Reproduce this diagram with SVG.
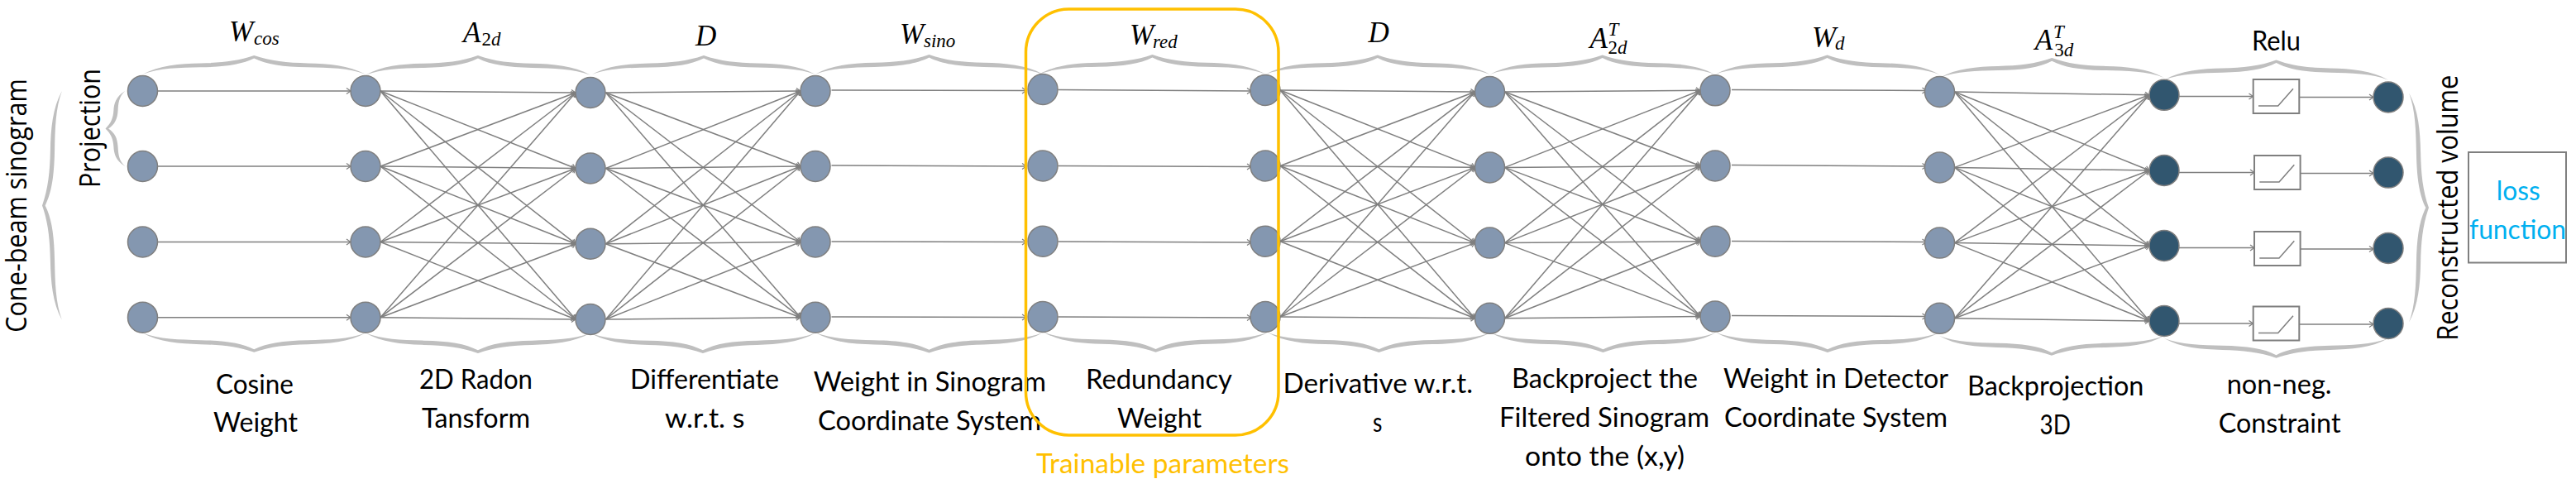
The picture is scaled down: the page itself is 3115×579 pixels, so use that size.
<svg xmlns="http://www.w3.org/2000/svg" xmlns:xlink="http://www.w3.org/1999/xlink" width="3115" height="579" viewBox="0 0 3115 579">
<style>
.bg{fill:#fff}
.brace{fill:#bfbfbf}
.conn path{fill:none;stroke:#7f7f7f;stroke-width:1.5;marker-end:url(#tip)}
.node ellipse{fill:#8497b0;stroke:#7f7f7f;stroke-width:1.5}
.node.dark ellipse{fill:#31566f}
.relu rect{fill:#fff;stroke:#7f7f7f;stroke-width:2}
.relu polyline{fill:none;stroke:#7f7f7f;stroke-width:1.5}
.t{font-family:"Lato","Liberation Sans",sans-serif;font-size:33px;fill:#000;text-anchor:start}
.v{font-family:"Open Sans","Liberation Sans",sans-serif;font-size:35px;fill:#000}
.m{font-family:"Liberation Serif",serif;font-style:italic;font-size:35px;fill:#000}
.s{font-size:23px}
.u{font-style:normal}
.orange{fill:#ffc000}
.blue{fill:#00b0f0}
</style>
<defs>
<marker id="tip" markerUnits="userSpaceOnUse" markerWidth="10" markerHeight="10" refX="7" refY="5" orient="auto">
<path d="M2 1.5L7 5L2 8.5" fill="none" stroke="#7f7f7f" stroke-width="1.2"/>
</marker>
<!-- curly brace, tip at the top centre, 270 wide and 23 tall -->
<path id="brace" class="brace" d="M0 23C20 12 45 10 70 9.5C95 9 115 7 135 0C155 7 175 9 200 9.5C225 10 250 12 270 23C250 15.5 225 15 200 14.5C170 14 150 11 135 3.5C120 11 100 14 70 14.5C45 15 20 15.5 0 23Z"/>
<g id="relu-box" class="relu"><rect x="0" y="0" width="55.6" height="41"/><polyline points="6.3,32 30,32 48.3,11.3"/></g>
</defs>
<rect class="bg" width="3115" height="579"/>

<g id="braces">
<use href="#brace" transform="translate(172.5 67) scale(.998 .987)"/>
<use href="#brace" transform="translate(442 67) scale(1.007 1.03)"/>
<use href="#brace" transform="translate(716 67) scale(1 1)"/>
<use href="#brace" transform="translate(986 66) scale(1.019 1.03)"/>
<use href="#brace" transform="translate(1257 66) scale(1.011 1.02)"/>
<use href="#brace" transform="translate(1530 66.5) scale(1.006 1.02)"/>
<use href="#brace" transform="translate(1801.5 66.5) scale(1.009 1.02)"/>
<use href="#brace" transform="translate(2074 66.5) scale(1.004 1.02)"/>
<use href="#brace" transform="translate(2345.4 70) scale(1.006 1.04)"/>
<use href="#brace" transform="translate(2617 72.4) scale(1.004 1.06)"/>
<use href="#brace" transform="translate(172.5 425.8) scale(.998 -1.01)"/>
<use href="#brace" transform="translate(442 427) scale(1.007 -1.06)"/>
<use href="#brace" transform="translate(714 427) scale(1.007 -1.06)"/>
<use href="#brace" transform="translate(986 426.5) scale(1.019 -1.06)"/>
<use href="#brace" transform="translate(1261.7 425.8) scale(1.006 -1.06)"/>
<use href="#brace" transform="translate(1533 426) scale(.996 -1.04)"/>
<use href="#brace" transform="translate(1802 426) scale(1.011 -1.04)"/>
<use href="#brace" transform="translate(2075 426) scale(1 -1.04)"/>
<use href="#brace" transform="translate(2345 429.8) scale(1.007 -1.03)"/>
<use href="#brace" transform="translate(2617 432.8) scale(1.004 -1.03)"/>
<use href="#brace" transform="matrix(0 .337 1.04 0 127.5 110)"/>
<use href="#brace" transform="matrix(0 1.025 1.04 0 51 110)"/>
<use href="#brace" transform="matrix(0 1.026 -1.04 0 2937 112.6)"/>
</g>

<g id="connectors" class="conn">
<!-- column 1 to 2 -->
<path d="M190.5 110L424 110"/><path d="M190.5 201L424 201"/><path d="M190.5 292.5L424 292.5"/><path d="M190.5 383.7L424 383.7"/>
<!-- column 2 to 3 -->
<path d="M460 110L696 112"/><path d="M460 110L696 203.5"/><path d="M460 110L696 294.7"/><path d="M460 110L696 386"/>
<path d="M460 201L696 112"/><path d="M460 201L696 203.5"/><path d="M460 201L696 294.7"/><path d="M460 201L696 386"/>
<path d="M460 292.5L696 112"/><path d="M460 292.5L696 203.5"/><path d="M460 292.5L696 294.7"/><path d="M460 292.5L696 386"/>
<path d="M460 383.7L696 112"/><path d="M460 383.7L696 203.5"/><path d="M460 383.7L696 294.7"/><path d="M460 383.7L696 386"/>
<!-- column 3 to 4 -->
<path d="M732.5 112L968 110"/><path d="M732.5 112L968 201"/><path d="M732.5 112L968 292.5"/><path d="M732.5 112L968 383.7"/>
<path d="M732.5 203.5L968 110"/><path d="M732.5 203.5L968 201"/><path d="M732.5 203.5L968 292.5"/><path d="M732.5 203.5L968 383.7"/>
<path d="M732.5 294.7L968 110"/><path d="M732.5 294.7L968 201"/><path d="M732.5 294.7L968 292.5"/><path d="M732.5 294.7L968 383.7"/>
<path d="M732.5 386L968 110"/><path d="M732.5 386L968 201"/><path d="M732.5 386L968 292.5"/><path d="M732.5 386L968 383.7"/>
<!-- column 4 to 5 -->
<path d="M1005.5 109L1241 109.5"/><path d="M1005.5 200L1241 201"/><path d="M1005.5 292L1241 292.5"/><path d="M1005.5 383L1241 383.5"/>
<!-- column 5 to 6 -->
<path d="M1279.5 108.5L1513 110"/><path d="M1279.5 200.5L1513 201.5"/><path d="M1279.5 292L1513 293"/><path d="M1279.5 383L1513 384"/>
<!-- column 6 to 7 -->
<path d="M1548 109L1783.5 111"/><path d="M1548 109L1783.5 202.4"/><path d="M1548 109L1783.5 293.6"/><path d="M1548 109L1783.5 384.8"/>
<path d="M1548 200.5L1783.5 111"/><path d="M1548 200.5L1783.5 202.4"/><path d="M1548 200.5L1783.5 293.6"/><path d="M1548 200.5L1783.5 384.8"/>
<path d="M1548 291.7L1783.5 111"/><path d="M1548 291.7L1783.5 202.4"/><path d="M1548 291.7L1783.5 293.6"/><path d="M1548 291.7L1783.5 384.8"/>
<path d="M1548 383L1783.5 111"/><path d="M1548 383L1783.5 202.4"/><path d="M1548 383L1783.5 293.6"/><path d="M1548 383L1783.5 384.8"/>
<!-- column 7 to 8 -->
<path d="M1819.5 111L2056 109.3"/><path d="M1819.5 111L2056 200.5"/><path d="M1819.5 111L2056 291.7"/><path d="M1819.5 111L2056 382.6"/>
<path d="M1819.5 202.4L2056 109.3"/><path d="M1819.5 202.4L2056 200.5"/><path d="M1819.5 202.4L2056 291.7"/><path d="M1819.5 202.4L2056 382.6"/>
<path d="M1819.5 293.6L2056 109.3"/><path d="M1819.5 293.6L2056 200.5"/><path d="M1819.5 293.6L2056 291.7"/><path d="M1819.5 293.6L2056 382.6"/>
<path d="M1819.5 384.8L2056 109.3"/><path d="M1819.5 384.8L2056 200.5"/><path d="M1819.5 384.8L2056 291.7"/><path d="M1819.5 384.8L2056 382.6"/>
<!-- column 8 to 9 -->
<path d="M2094 108.5L2329.5 109.5"/><path d="M2094 199.5L2329.5 201"/><path d="M2094 291.5L2329.5 292.5"/><path d="M2094 381.5L2329.5 382.5"/>
<!-- column 9 to 10 -->
<path d="M2363.5 111L2599 114.8"/><path d="M2363.5 111L2599 206"/><path d="M2363.5 111L2599 297"/><path d="M2363.5 111L2599 388"/>
<path d="M2363.5 202.4L2599 114.8"/><path d="M2363.5 202.4L2599 206"/><path d="M2363.5 202.4L2599 297"/><path d="M2363.5 202.4L2599 388"/>
<path d="M2363.5 293.6L2599 114.8"/><path d="M2363.5 293.6L2599 206"/><path d="M2363.5 293.6L2599 297"/><path d="M2363.5 293.6L2599 388"/>
<path d="M2363.5 384.8L2599 114.8"/><path d="M2363.5 384.8L2599 206"/><path d="M2363.5 384.8L2599 297"/><path d="M2363.5 384.8L2599 388"/>
<!-- column 10 through the rectifier boxes to column 11 -->
<path d="M2635 116.5L2724.5 116.5"/><path d="M2635 208.5L2726 208.5"/><path d="M2635 299.5L2726 299.5"/><path d="M2635 391L2724.5 391"/>
<path d="M2780.5 117.5L2870 117.5"/><path d="M2781.5 209.5L2870 209.5"/><path d="M2781.5 301L2870 301"/><path d="M2780.5 392L2870 392"/>
</g>

<g id="column-1">
<g id="n1-1" class="node"><ellipse cx="172.5" cy="110" rx="18" ry="18.5"/></g>
<g id="n1-2" class="node"><ellipse cx="172.5" cy="201" rx="18" ry="18.5"/></g>
<g id="n1-3" class="node"><ellipse cx="172.5" cy="292.5" rx="18" ry="18.5"/></g>
<g id="n1-4" class="node"><ellipse cx="172.5" cy="383.7" rx="18" ry="18.5"/></g>
</g>
<g id="column-2">
<g id="n2-1" class="node"><ellipse cx="442" cy="110" rx="18" ry="18.5"/></g>
<g id="n2-2" class="node"><ellipse cx="442" cy="201" rx="18" ry="18.5"/></g>
<g id="n2-3" class="node"><ellipse cx="442" cy="292.5" rx="18" ry="18.5"/></g>
<g id="n2-4" class="node"><ellipse cx="442" cy="383.7" rx="18" ry="18.5"/></g>
</g>
<g id="column-3">
<g id="n3-1" class="node"><ellipse cx="714" cy="112" rx="18" ry="18.5"/></g>
<g id="n3-2" class="node"><ellipse cx="714" cy="203.5" rx="18" ry="18.5"/></g>
<g id="n3-3" class="node"><ellipse cx="714" cy="294.7" rx="18" ry="18.5"/></g>
<g id="n3-4" class="node"><ellipse cx="714" cy="386" rx="18" ry="18.5"/></g>
</g>
<g id="column-4">
<g id="n4-1" class="node"><ellipse cx="986" cy="110" rx="18" ry="18.5"/></g>
<g id="n4-2" class="node"><ellipse cx="986" cy="201" rx="18" ry="18.5"/></g>
<g id="n4-3" class="node"><ellipse cx="986" cy="292.5" rx="18" ry="18.5"/></g>
<g id="n4-4" class="node"><ellipse cx="986" cy="383.7" rx="18" ry="18.5"/></g>
</g>
<g id="column-5">
<g id="n5-1" class="node"><ellipse cx="1261" cy="108" rx="18" ry="18.5"/></g>
<g id="n5-2" class="node"><ellipse cx="1261" cy="200.5" rx="18" ry="18.5"/></g>
<g id="n5-3" class="node"><ellipse cx="1261" cy="291.7" rx="18" ry="18.5"/></g>
<g id="n5-4" class="node"><ellipse cx="1261" cy="383" rx="18" ry="18.5"/></g>
</g>
<g id="column-6">
<g id="n6-1" class="node"><ellipse cx="1530" cy="109" rx="18" ry="18.5"/></g>
<g id="n6-2" class="node"><ellipse cx="1530" cy="200.5" rx="18" ry="18.5"/></g>
<g id="n6-3" class="node"><ellipse cx="1530" cy="291.7" rx="18" ry="18.5"/></g>
<g id="n6-4" class="node"><ellipse cx="1530" cy="383" rx="18" ry="18.5"/></g>
</g>
<g id="column-7">
<g id="n7-1" class="node"><ellipse cx="1801.5" cy="111" rx="18" ry="18.5"/></g>
<g id="n7-2" class="node"><ellipse cx="1801.5" cy="202.4" rx="18" ry="18.5"/></g>
<g id="n7-3" class="node"><ellipse cx="1801.5" cy="293.6" rx="18" ry="18.5"/></g>
<g id="n7-4" class="node"><ellipse cx="1801.5" cy="384.8" rx="18" ry="18.5"/></g>
</g>
<g id="column-8">
<g id="n8-1" class="node"><ellipse cx="2074" cy="109.3" rx="18" ry="18.5"/></g>
<g id="n8-2" class="node"><ellipse cx="2074" cy="200.5" rx="18" ry="18.5"/></g>
<g id="n8-3" class="node"><ellipse cx="2074" cy="291.7" rx="18" ry="18.5"/></g>
<g id="n8-4" class="node"><ellipse cx="2074" cy="382.6" rx="18" ry="18.5"/></g>
</g>
<g id="column-9">
<g id="n9-1" class="node"><ellipse cx="2345.5" cy="111" rx="18" ry="18.5"/></g>
<g id="n9-2" class="node"><ellipse cx="2345.5" cy="202.4" rx="18" ry="18.5"/></g>
<g id="n9-3" class="node"><ellipse cx="2345.5" cy="293.6" rx="18" ry="18.5"/></g>
<g id="n9-4" class="node"><ellipse cx="2345.5" cy="384.8" rx="18" ry="18.5"/></g>
</g>
<g id="column-10">
<g id="n10-1" class="node dark"><ellipse cx="2617" cy="114.8" rx="18" ry="18.5"/></g>
<g id="n10-2" class="node dark"><ellipse cx="2617" cy="206" rx="18" ry="18.5"/></g>
<g id="n10-3" class="node dark"><ellipse cx="2617" cy="297" rx="18" ry="18.5"/></g>
<g id="n10-4" class="node dark"><ellipse cx="2617" cy="388" rx="18" ry="18.5"/></g>
</g>
<g id="rectifiers">
<use id="relu-1" href="#relu-box" transform="translate(2724.7 96)"/>
<use id="relu-2" href="#relu-box" transform="translate(2726 188)"/>
<use id="relu-3" href="#relu-box" transform="translate(2726 280)"/>
<use id="relu-4" href="#relu-box" transform="translate(2724.7 370.5)"/>
</g>
<g id="column-11">
<g id="n11-1" class="node dark"><ellipse cx="2888" cy="117.4" rx="18" ry="18.5"/></g>
<g id="n11-2" class="node dark"><ellipse cx="2888" cy="208.6" rx="18" ry="18.5"/></g>
<g id="n11-3" class="node dark"><ellipse cx="2888" cy="299.9" rx="18" ry="18.5"/></g>
<g id="n11-4" class="node dark"><ellipse cx="2888" cy="391" rx="18" ry="18.5"/></g>
</g>

<g id="operators">
<text class="m" x="277" y="50">W<tspan class="s" x="307" y="53.5">cos</tspan></text>
<text class="m" x="560" y="50.6">A<tspan class="s u" x="582.6" y="55.4">2</tspan><tspan class="s">d</tspan></text>
<text class="m" x="841" y="54.6">D</text>
<text class="m" x="1088" y="53">W<tspan class="s" x="1117" y="56.5">sino</tspan></text>
<text class="m" x="1366" y="54">W<tspan class="s" x="1394" y="58.3">red</tspan></text>
<text class="m" x="1654.6" y="51">D</text>
<text class="m" x="1922.4" y="58">A<tspan class="s" x="1944.4" y="43">T</tspan><tspan class="s u" x="1944.4" y="65.4">2</tspan><tspan class="s">d</tspan></text>
<text class="m" x="2191" y="56.5">W<tspan class="s" x="2219" y="60">d</tspan></text>
<text class="m" x="2460.7" y="60">A<tspan class="s" x="2483" y="46">T</tspan><tspan class="s u" x="2484.3" y="67.7">3</tspan><tspan class="s">d</tspan></text>
<text class="t" x="2723" y="60.7" textLength="59" lengthAdjust="spacingAndGlyphs">Relu</text>
</g>

<g id="captions">
<text class="t" x="261" y="476" textLength="94" lengthAdjust="spacingAndGlyphs">Cosine</text>
<text class="t" x="258" y="521.7" textLength="102" lengthAdjust="spacingAndGlyphs">Weight</text>
<text class="t" x="507" y="470" textLength="137" lengthAdjust="spacingAndGlyphs">2D Radon</text>
<text class="t" x="510" y="517.3" textLength="131" lengthAdjust="spacingAndGlyphs">Tansform</text>
<text class="t" x="762" y="470" textLength="180" lengthAdjust="spacingAndGlyphs">Differentiate</text>
<text class="t" x="804" y="517" textLength="96.5" lengthAdjust="spacingAndGlyphs">w.r.t. s</text>
<text class="t" x="983.7" y="472.5" textLength="281.3" lengthAdjust="spacingAndGlyphs">Weight in Sinogram</text>
<text class="t" x="989" y="520" textLength="270" lengthAdjust="spacingAndGlyphs">Coordinate System</text>
<text class="t" x="1313" y="470" textLength="177" lengthAdjust="spacingAndGlyphs">Redundancy</text>
<text class="t" x="1351" y="517" textLength="102" lengthAdjust="spacingAndGlyphs">Weight</text>
<text class="t" x="1551.5" y="475" textLength="229.5" lengthAdjust="spacingAndGlyphs">Derivative w.r.t.</text>
<text class="t" x="1660" y="521.7" textLength="11.4" lengthAdjust="spacingAndGlyphs">s</text>
<text class="t" x="1828" y="469" textLength="225" lengthAdjust="spacingAndGlyphs">Backproject the</text>
<text class="t" x="1813" y="516" textLength="254" lengthAdjust="spacingAndGlyphs">Filtered Sinogram</text>
<text class="t" x="1844" y="563.4" textLength="193" lengthAdjust="spacingAndGlyphs">onto the (x,y)</text>
<text class="t" x="2084" y="469" textLength="272" lengthAdjust="spacingAndGlyphs">Weight in Detector</text>
<text class="t" x="2085" y="516" textLength="270" lengthAdjust="spacingAndGlyphs">Coordinate System</text>
<text class="t" x="2379" y="478" textLength="213.4" lengthAdjust="spacingAndGlyphs">Backprojection</text>
<text class="t" x="2466.6" y="524.6" textLength="37.4" lengthAdjust="spacingAndGlyphs">3D</text>
<text class="t" x="2692.7" y="475.5" textLength="126.8" lengthAdjust="spacingAndGlyphs">non-neg.</text>
<text class="t" x="2682.7" y="523" textLength="147.8" lengthAdjust="spacingAndGlyphs">Constraint</text>
</g>

<g id="side-labels">
<text class="v" transform="translate(31.6 401.8) rotate(-90)" textLength="306.5" lengthAdjust="spacingAndGlyphs">Cone-beam sinogram</text>
<text class="v" transform="translate(121.4 227) rotate(-90)" textLength="144" lengthAdjust="spacingAndGlyphs">Projection</text>
<text class="v" transform="translate(2972 411.7) rotate(-90)" textLength="321" lengthAdjust="spacingAndGlyphs">Reconstructed volume</text>
</g>

<g id="trainable">
<rect x="1240.5" y="11" width="305.5" height="515" rx="52" ry="52" fill="none" stroke="#ffc000" stroke-width="3.5"/>
<text class="t orange" x="1253" y="572.4" textLength="306" lengthAdjust="spacingAndGlyphs">Trainable parameters</text>
</g>

<g id="loss">
<rect x="2985" y="184" width="118" height="133.5" fill="#fff" stroke="#7f7f7f" stroke-width="2"/>
<text class="t blue" x="3018.8" y="242" textLength="52.9" lengthAdjust="spacingAndGlyphs">loss</text>
<text class="t blue" x="2986" y="289" textLength="117" lengthAdjust="spacingAndGlyphs">function</text>
</g>
</svg>
